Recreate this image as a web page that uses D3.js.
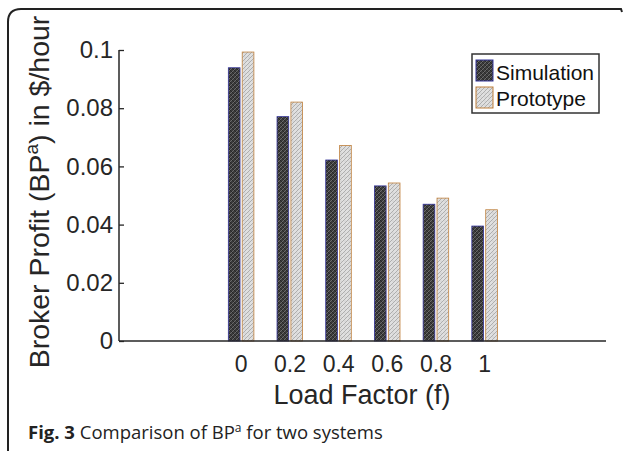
<!DOCTYPE html>
<html>
<head>
<meta charset="utf-8">
<script src="https://cdn.jsdelivr.net/npm/d3@7"></script>
<style>
  html, body { margin: 0; padding: 0; background: #fff; }
  svg { display: block; }
</style>
</head>
<body>
<svg id="chart" width="625" height="455"></svg>
<script>
const categories = ["0", "0.2", "0.4", "0.6", "0.8", "1"];
const simulation = [0.0939, 0.0771, 0.0622, 0.0533, 0.0470, 0.0395];
const prototype  = [0.0993, 0.0821, 0.0672, 0.0543, 0.0491, 0.0451];
const yTicks = [0, 0.02, 0.04, 0.06, 0.08, 0.1];
const yTickLabels = ["0", "0.02", "0.04", "0.06", "0.08", "0.1"];
const seriesNames = ["Simulation", "Prototype"];

const svg = d3.select("#chart");
const defs = svg.append("defs");

// hatch patterns
const pSim = defs.append("pattern").attr("id", "patSim")
  .attr("patternUnits", "userSpaceOnUse").attr("width", 4).attr("height", 4);
pSim.append("rect").attr("width", 4).attr("height", 4).attr("fill", "#3c3c3c");
pSim.append("path").attr("d", "M0,4 L4,0 M-1,1 L1,-1 M3,5 L5,3").attr("stroke", "#6a6a6a").attr("stroke-width", 1);
pSim.append("path").attr("d", "M0,0 L4,4").attr("stroke", "#222").attr("stroke-width", 0.8);

const pPro = defs.append("pattern").attr("id", "patPro")
  .attr("patternUnits", "userSpaceOnUse").attr("width", 4).attr("height", 4);
pPro.append("rect").attr("width", 4).attr("height", 4).attr("fill", "#e0e0e0");
pPro.append("path").attr("d", "M0,4 L4,0 M-1,1 L1,-1 M3,5 L5,3").attr("stroke", "#a8a8a8").attr("stroke-width", 0.9);
pPro.append("circle").attr("cx", 1).attr("cy", 1).attr("r", 0.5).attr("fill", "#bbb");

// figure frame (top + left, rounded corners)
svg.append("path")
  .attr("d", "M8,451 Q8,446 8,440 L8,22 Q8,9 21,9 L621,9 L622,12")
  .attr("fill", "none").attr("stroke", "#222").attr("stroke-width", 2);

const x = d3.scaleLinear().domain([-2.5, 7.5]).range([119, 606]);
const y = d3.scaleLinear().domain([0, 0.1]).range([341, 50]);

const bw = 0.24; // bar width in index units

// bars
const g = svg.append("g");
g.selectAll("rect.sim").data(simulation).join("rect")
  .attr("class", "sim")
  .attr("x", (d, i) => x(i - 0.255))
  .attr("width", x(bw) - x(0))
  .attr("y", d => y(d))
  .attr("height", d => y(0) - y(d))
  .attr("fill", "url(#patSim)")
  .attr("stroke", "#34349a").attr("stroke-width", 0.8);

g.selectAll("rect.pro").data(prototype).join("rect")
  .attr("class", "pro")
  .attr("x", (d, i) => x(i + 0.03))
  .attr("width", x(bw) - x(0))
  .attr("y", d => y(d))
  .attr("height", d => y(0) - y(d))
  .attr("fill", "url(#patPro)")
  .attr("stroke", "#c0803c").attr("stroke-width", 0.8);

// axes
const yAxis = d3.axisLeft(y).tickValues(yTicks)
  .tickFormat((d, i) => yTickLabels[i]).tickSize(-5).tickPadding(6);
const ya = svg.append("g").attr("transform", "translate(119,0)").call(yAxis);
ya.select(".domain").attr("stroke", "#262626").attr("stroke-width", 1.5)
  .attr("d", "M0," + y(0) + "V" + y(0.1));
ya.selectAll(".tick line").attr("stroke", "#262626").attr("stroke-width", 1.3);
ya.selectAll(".tick text").attr("font-family", "Liberation Sans, Arial, sans-serif")
  .attr("font-size", 24).attr("fill", "#262626");

const xAxis = d3.axisBottom(x).tickValues(d3.range(categories.length))
  .tickFormat((d, i) => categories[i]).tickSize(0).tickPadding(15);
const xa = svg.append("g").attr("transform", "translate(0," + y(0) + ")").call(xAxis);
xa.select(".domain").attr("stroke", "#262626").attr("stroke-width", 1.5)
  .attr("d", "M119,0H606");
xa.selectAll(".tick text").attr("font-family", "Liberation Sans, Arial, sans-serif")
  .attr("font-size", 23).attr("fill", "#262626");

// axis titles
svg.append("text").attr("x", 362).attr("y", 404).attr("text-anchor", "middle")
  .attr("font-family", "Liberation Sans, Arial, sans-serif").attr("font-size", 27)
  .attr("fill", "#262626").text("Load Factor (f)");

const yt = svg.append("text")
  .attr("transform", "translate(49,192) rotate(-90)")
  .attr("text-anchor", "middle")
  .attr("font-family", "Liberation Sans, Arial, sans-serif").attr("font-size", 28.5)
  .attr("fill", "#262626");
yt.append("tspan").text("Broker Profit (BP");
yt.append("tspan").attr("dy", -11).attr("font-size", 19).text("a");
yt.append("tspan").attr("dy", 11).text(") in $/hour");

// legend
const lg = svg.append("g");
lg.append("rect").attr("x", 472).attr("y", 54).attr("width", 127).attr("height", 59)
  .attr("fill", "#fff").attr("stroke", "#333").attr("stroke-width", 1.5);
const legendFills = ["url(#patSim)", "url(#patPro)"];
const legendStrokes = ["#34349a", "#c0803c"];
seriesNames.forEach((name, i) => {
  lg.append("rect").attr("x", 476).attr("y", 60 + i * 27).attr("width", 17).attr("height", 21)
    .attr("fill", legendFills[i]).attr("stroke", legendStrokes[i]).attr("stroke-width", 1);
  lg.append("text").attr("x", 496).attr("y", 80 + i * 26)
    .attr("font-family", "Liberation Sans, Arial, sans-serif").attr("font-size", 21)
    .attr("fill", "#111").text(name);
});

// caption
const cap = svg.append("text").attr("x", 28).attr("y", 439)
  .attr("font-family", "Open Sans, sans-serif").attr("font-size", 18.5).attr("fill", "#222");
cap.append("tspan").attr("font-weight", "bold").text("Fig. 3");
cap.append("tspan").text(" Comparison of BP");
cap.append("tspan").attr("dy", -7).attr("font-size", 12).text("a");
cap.append("tspan").attr("dy", 7).text(" for two systems");
</script>
</body>
</html>
